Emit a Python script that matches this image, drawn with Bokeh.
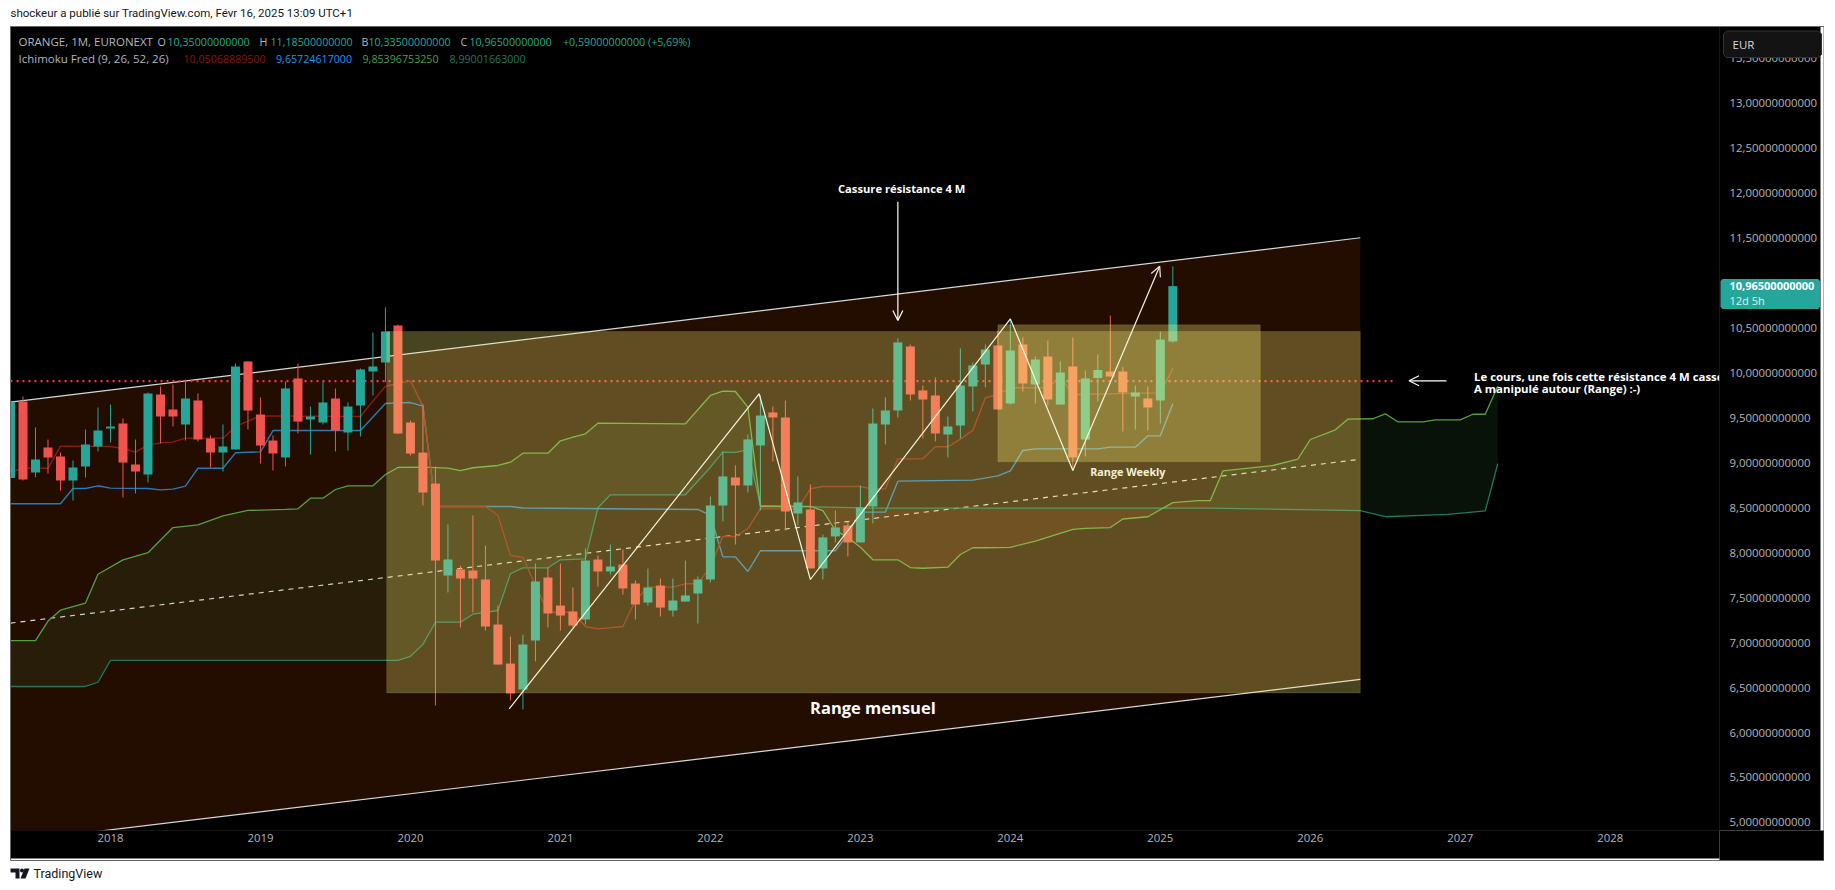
from bokeh.plotting import figure
from bokeh.embed import file_html
from bokeh.resources import INLINE
from bokeh.core.properties import value
from bokeh.layouts import column
from bokeh.models import (Label, Arrow, OpenHead, FixedTicker, ColumnDataSource)
import numpy as np

# ---- candles: bar index 0 = January 2018
first_bar = -8
opens = [8.83,9.682,8.892,9.170,9.070,8.803,8.959,9.181,9.382,9.437,8.981,8.870,9.760,9.593,9.426,9.693,9.270,9.115,9.148,10.127,9.537,9.248,9.059,9.938,9.482,9.448,9.715,9.337,9.637,10.016,10.116,10.527,
 9.448,9.114,8.769,7.746,7.813,7.802,7.702,7.201,6.767,6.478,7.023,7.724,7.412,7.346,7.257,7.924,7.791,7.869,7.657,7.446,7.635,7.357,7.457,7.546,7.702,
 8.525,8.837,8.748,9.193,9.560,9.504,8.436,8.481,7.825,8.181,8.303,8.114,8.514,9.426,9.582,10.294,9.805,9.749,9.315,9.415,9.849,10.093,10.305,9.660,10.316,9.871,10.182,9.648,10.071,9.259,9.943,10.015,10.015,9.737,9.715,9.693,10.35]
highs = [9.68,9.738,9.393,9.259,9.115,9.026,9.370,9.615,9.649,9.493,9.259,9.782,9.849,9.871,9.927,9.771,9.304,9.426,10.105,10.127,9.726,9.304,9.904,10.105,9.626,9.904,9.827,9.671,10.049,10.450,10.728,10.538,
 9.470,9.648,8.959,8.314,7.857,8.414,8.080,7.412,7.068,7.090,7.880,7.835,7.880,7.613,8.047,7.969,8.091,8.035,7.691,7.824,7.713,7.713,7.913,7.735,8.625,
 9.126,8.970,9.315,9.749,9.627,9.693,8.848,8.759,8.203,8.470,8.347,8.748,9.604,9.727,10.383,10.316,9.860,9.949,9.515,10.272,10.116,10.316,10.472,10.601,10.394,10.182,10.360,10.127,10.394,10.027,10.205,10.638,10.067,9.860,9.849,10.460,11.185]
lows = [8.70,8.803,8.840,8.881,8.692,8.581,8.836,9.126,9.226,8.614,8.659,8.781,9.215,9.404,9.248,9.237,8.948,8.903,9.148,9.370,8.992,8.914,8.959,9.326,9.092,9.426,9.126,9.137,9.293,9.749,9.897,9.32,
 9.081,8.525,6.300,7.557,7.168,7.335,7.134,6.756,6.356,6.256,6.790,7.168,7.134,7.170,7.201,7.624,7.757,7.535,7.257,7.413,7.290,7.290,7.457,7.212,7.668,
 8.347,8.091,8.670,8.470,9.015,8.247,8.303,7.825,7.702,8.114,7.958,8.114,8.325,9.204,9.504,9.693,9.271,9.237,9.059,9.271,9.571,9.838,9.593,9.648,9.793,9.660,9.637,9.648,8.914,9.070,9.682,9.960,9.348,9.370,9.359,9.437,10.335]
closes = [9.68,8.814,9.037,9.059,8.803,8.948,9.204,9.359,9.404,9.003,8.903,9.771,9.515,9.515,9.715,9.259,9.115,9.181,10.071,9.582,9.192,9.104,9.827,9.459,9.515,9.671,9.359,9.626,10.038,10.071,10.461,9.326,
 9.103,8.669,7.913,7.924,7.713,7.713,7.179,6.756,6.434,6.979,7.680,7.324,7.301,7.190,7.913,7.791,7.846,7.602,7.424,7.613,7.390,7.468,7.524,7.702,8.525,
 8.848,8.748,9.260,9.526,9.504,8.459,8.559,7.825,8.170,8.281,8.114,8.503,9.437,9.582,10.339,9.760,9.704,9.326,9.404,9.860,10.083,10.260,9.593,10.249,9.882,10.149,9.704,10.004,9.059,9.938,10.032,9.960,9.782,9.782,9.615,10.371,10.965]

# ---- Ichimoku knots (bar index, price)
conv_i = [-8,-7,-5,-4,0,1,2,3,4,5,6,9,10,12,20,21,22,24,25,26,30,31,32,33,34,35,37,38,39,41,42,43,45,46,47,48,49,50,51,52,55,56,57,60,61,62,63,65,66,67,68,69,70,71,72,75,76,77,84,85]
conv_v = [8.892,8.940,8.940,9.185,9.181,9.159,9.118,9.196,9.222,9.230,9.274,9.274,9.404,9.522,9.515,9.686,9.852,9.911,9.630,8.514,8.514,8.414,7.969,7.950,7.635,7.338,7.338,7.179,7.153,7.179,7.468,7.617,7.617,7.654,7.654,7.846,8.180,8.180,8.269,8.488,8.488,8.711,8.737,8.737,8.707,8.711,9.044,9.044,9.178,9.178,9.263,9.360,9.723,9.760,9.834,9.834,9.952,9.760,9.778,10.05]
base_i = [-8,-4,-3,-2,-1,0,3,4,5,6,7,9,10,12,13,20,22,23,24,25,26,32,33,47,48,49,50,51,52,58,59,60,62,63,69,71,72,73,74,79,80,82,83,84,85]
base_v = [8.544,8.544,8.714,8.714,8.744,8.718,8.714,8.699,8.707,8.740,8.940,8.940,9.111,9.122,9.359,9.359,9.660,9.667,9.670,9.630,8.514,8.514,8.497,8.481,8.414,7.954,7.954,7.791,8.021,8.021,8.210,8.451,8.451,8.796,8.807,8.855,8.911,9.137,9.155,9.155,9.174,9.174,9.300,9.300,9.657]
spanA_i = [-8,-6,-5,-4,-3,-2,-1,1,3,5,7,9,11,14,15,16,17,18,19,21,22,23,25,27,28,29,31,32,33,35,36,37,38,39,46,48,49,50,51,52,56,57,58,59,60,61,63,64,65,67,68,69,70,72,74,77,78,80,81,83,85,87,88,89,93,95,96,98,99,101,102,103,105,106,108,109,110,111]
spanA_v = [7.021,7.021,7.24,7.36,7.40,7.44,7.76,7.92,8.00,8.28,8.31,8.41,8.47,8.481,8.488,8.606,8.606,8.703,8.744,8.744,8.870,8.948,8.951,8.940,8.914,8.945,8.970,9.007,9.107,9.107,9.245,9.285,9.323,9.441,9.434,9.749,9.797,9.793,9.619,8.514,8.514,8.469,8.247,8.17,8.061,7.921,7.921,7.835,7.827,7.839,7.980,8.055,8.055,8.06,8.13,8.26,8.27,8.28,8.375,8.40,8.557,8.58,8.58,8.91,8.97,9.04,9.259,9.367,9.485,9.49,9.545,9.456,9.456,9.478,9.478,9.54,9.54,9.854]
spanB_i = [-8,-2,-1,0,23,24,25,26,28,29,31,32,33,35,36,38,39,40,46,48,49,50,51,52,61,88,100,102,107,110,111]
spanB_v = [6.512,6.512,6.559,6.803,6.803,6.848,6.98,7.227,7.227,7.316,7.357,7.766,7.832,7.832,7.921,7.932,8.500,8.644,8.644,8.951,9.118,9.115,9.145,8.525,8.495,8.495,8.469,8.40,8.427,8.466,8.99]

# ---- drawings
channel_i = [-8, 100]
channel_top = [9.674, 11.503]
channel_mid = [7.217, 9.039]
channel_bot = [4.784, 6.590]
monthly_box = dict(i0=22.1, i1=100, top=10.46, bottom=6.44)
weekly_box = dict(i0=71, i1=92, top=10.535, bottom=9.011)
resistance = 9.908
resistance_end = 102.9
zig_i = [31.9, 51.9, 56, 72, 77]
zig_v = [6.264, 9.768, 7.702, 10.601, 8.914]
zig_tip = (83.95, 11.187)

y_ticks = [5 + 0.5 * k for k in range(18)]
x_ticks = [0, 12, 24, 36, 48, 60, 72, 84, 96, 108, 120]
x_labels = ["2018", "2019", "2020", "2021", "2022", "2023", "2024", "2025", "2026", "2027", "2028"]

UP, DOWN = "#26a69a", "#ef5350"
W, H = 1824, 882

p = figure(width=W, height=H, x_range=(-8, 128.74), y_range=(4.91, 13.853), output_backend="svg",
           toolbar_location=None, y_axis_location="right", background_fill_color="black",
           border_fill_color="white", min_border_left=10, min_border_top=26, min_border_right=105, min_border_bottom=52,
           frame_align=False)
p.outline_line_color = "#2a2a2a"
p.grid.visible = False

for ax in (p.yaxis[0], p.xaxis[0]):
    ax.axis_line_color = None
    ax.major_tick_line_color = None
    ax.minor_tick_line_color = None
    ax.major_tick_out = 0
    ax.major_tick_in = 0
    ax.major_label_text_color = "#b2b5be"
    ax.major_label_text_font = "Open Sans"
    ax.major_label_text_font_size = "11.4px"
    ax.background_fill_color = "black"
p.yaxis[0].ticker = FixedTicker(ticks=y_ticks)
p.yaxis[0].major_label_overrides = {t: f"{t:.11f}".replace(".", ",") for t in y_ticks}
p.yaxis[0].major_label_standoff = 10
p.xaxis[0].ticker = FixedTicker(ticks=x_ticks)
p.xaxis[0].major_label_overrides = dict(zip(x_ticks, x_labels))
p.xaxis[0].major_label_standoff = 3
p.xaxis[0].axis_label = " "
p.xaxis[0].axis_label_standoff = 0
p.xaxis[0].axis_label_text_font_size = "10px"

# channel
p.patch(channel_i + channel_i[::-1], channel_top + channel_bot[::-1], fill_color="#230d00", line_color=None)
p.line(channel_i, channel_top, line_color="#d8d8d8", line_width=1.2)
p.line(channel_i, channel_bot, line_color="#d8d8d8", line_width=1.2)
p.line(channel_i, channel_mid, line_color="#d8d8d8", line_width=1.2, line_dash="5 5")

# resistance
p.line([first_bar, resistance_end], [resistance, resistance], line_color="#f23645", line_width=2.2, line_dash="2 4")

# kumo
ai, av, bi, bv = map(np.array, (spanA_i, spanA_v, spanB_i, spanB_v))
for lo, hi, col in ((-8, 56, "#4caf50"), (56, 88, "#ff5722"), (88, 111, "#4caf50")):
    ma, mb = (ai >= lo) & (ai <= hi), (bi >= lo) & (bi <= hi)
    xs = np.concatenate([ai[ma], bi[mb][::-1]])
    ys = np.concatenate([av[ma], bv[mb][::-1]])
    p.patch(xs, ys, fill_color=col, fill_alpha=0.1, line_color=None)
p.line(spanB_i, spanB_v, line_color="#1b7a5e", line_width=1.3)
p.line(spanA_i, spanA_v, line_color="#55a03c", line_width=1.3)
p.line(base_i, base_v, line_color="#2a7ab8", line_width=1.4)
p.line(conv_i, conv_v, line_color="#8a1c10", line_width=1.4)

# candles
n = len(opens)
bars = list(range(first_bar, first_bar + n))
cols = [UP if c >= o else DOWN for o, c in zip(opens, closes)]
src = ColumnDataSource(dict(x=bars, o=opens, h=highs, l=lows, c=closes, col=cols,
                            top=[max(a, b) for a, b in zip(opens, closes)],
                            bot=[min(a, b) for a, b in zip(opens, closes)]))
p.segment("x", "h", "x", "l", source=src, line_color="col", line_width=1)
p.vbar("x", width=0.72, top="top", bottom="bot", source=src, fill_color="col", line_color=None)

# range boxes
for b, a in ((monthly_box, 0.28), (weekly_box, 0.30)):
    p.quad(left=b["i0"], right=b["i1"], top=b["top"], bottom=b["bottom"], fill_color="#fff678", fill_alpha=a,
           line_color="#fff678", line_alpha=0.12, line_width=1)

# zigzag and arrows
CREAM = "#f8f5da"
p.line(zig_i, zig_v, line_color=CREAM, line_width=1.2)
p.add_layout(Arrow(end=OpenHead(size=10, line_color="#e8e8e8", line_width=1.2), x_start=zig_i[-1], y_start=zig_v[-1],
                   x_end=zig_tip[0], y_end=zig_tip[1], line_color=CREAM, line_width=1.2))
p.add_layout(Arrow(end=OpenHead(size=10, line_color="white", line_width=1.2), x_start=63, y_start=11.903,
                   x_end=63, y_end=10.583, line_color="white", line_width=1.2))
p.add_layout(Arrow(end=OpenHead(size=10, line_color="white", line_width=1.2), x_start=106.9, y_start=9.912,
                   x_end=103.9, y_end=9.912, line_color="white", line_width=1.2))

BOLD = value("Open Sans")
p.text([63.3], [12.047], text=["Cassure résistance 4 M"], text_color="white", text_font=BOLD, text_font_style="bold",
       text_font_size="11.2px", text_align="center", text_baseline="middle")
p.text([61], [6.278], text=["Range mensuel"], text_color="white", text_font=BOLD, text_font_style="bold",
       text_font_size="16.5px", text_align="center", text_baseline="middle")
p.text([81.4], [8.903], text=["Range Weekly"], text_color="#f5f0d8", text_font=BOLD, text_font_style="bold",
       text_font_size="10.8px", text_align="center", text_baseline="middle")
p.text([109.1, 109.1], [9.96, 9.827], text=["Le cours, une fois cette résistance 4 M cassée", "A manipulé autour (Range) :-)"],
       text_color="white", text_font=BOLD, text_font_style="bold", text_font_size="11.4px", text_align="left", text_baseline="middle")

def label(x, y, txt, color, size="10.7px", font="Open Sans", style="normal"):
    p.add_layout(Label(x=x, y=y, x_units="canvas", y_units="canvas", text=txt, text_color=color, text_font=font,
                       text_font_size=size, text_font_style=style, text_baseline="middle", text_align="left"))

# legend rows
G, V = "#b2b5be", "#22ab94"
label(18, 41, "ORANGE, 1M, EURONEXT", G, size="11.5px")
for x, t, c in ((157, "O", G), (167, "10,35000000000", V), (259, "H", G), (270, "11,18500000000", V), (361, "B", G),
                (368, "10,33500000000", V), (460, "C", G), (469, "10,96500000000", V), (562.5, "+0,59000000000 (+5,69%)", V)):
    label(x, 41, t, c)
label(18, 58, "Ichimoku Fred (9, 26, 52, 26)", G, size="11.5px")
for x, t, c in ((183, "10,05068889500", "#8a1410"), (275.5, "9,65724617000", "#2196f3"), (362, "9,85396753250", "#43a047"), (449, "8,99001663000", "#1b7a5e")):
    label(x, 58, t, c)

# ---- transparent sheet on top, in page pixels, for what sits outside the plot frame
o = figure(width=W, height=H, x_range=(0, W), y_range=(H, 0), output_backend="svg", toolbar_location=None,
           min_border=0, background_fill_color=None, border_fill_color=None, margin=(-H, 0, 0, 0), frame_align=False)
o.axis.visible = False
o.grid.visible = False
o.outline_line_color = None

def txt(x, y, s, color, size="11px", font="Open Sans", style="normal"):
    o.text([x], [y], text=[s], text_color=color, text_font=value(font), text_font_size=size, text_font_style=style,
           text_align="left", text_baseline="middle")

def rbox(l, r, t, b, rad, fill, line=None):
    o.patch([l+rad, r-rad, r, r, r-rad, l+rad, l, l], [t, t, t+rad, b-rad, b, b, b-rad, t+rad], fill_color=fill, line_color=line, line_width=1)

# lower right corner between the two axes, then the panel border
rbox(1719, 1823.5, 830, 860, 0, "black")
o.line([10, 1823.5, 1823.5, 10, 10], [26, 26, 860, 860, 26], line_color="#666666", line_width=1)

# page header
txt(10, 12, "shockeur a publié sur TradingView.com, Févr 16, 2025 13:09 UTC+1", "#131722", size="11.5px", font="Roboto")

# EUR button
rbox(1723, 1821, 30.5, 57, 3, "#131313", "#333333")
txt(1732, 44, "EUR", "#d8d9de", size="11.5px")

# price tag
rbox(1720, 1819.5, 278.5, 308.5, 2, UP)
txt(1729, 285.7, "10,96500000000", "white", style="bold")
txt(1729, 300, "12d 5h", "#ddf2ef")

# TradingView mark
LOGO = "#131722"
o.patch([10, 19, 19, 15, 15, 10], [868, 868, 878, 878, 872, 872], fill_color=LOGO, line_color=None)
o.patch([24, 29, 25, 20], [868, 868, 878, 878], fill_color=LOGO, line_color=None)
o.scatter([21.5], [870], size=4, fill_color=LOGO, line_color=None)
txt(33, 873, "TradingView", LOGO, size="12.5px", font="Roboto")

open("out.html", "w").write(file_html(column(p, o, spacing=0), INLINE))
